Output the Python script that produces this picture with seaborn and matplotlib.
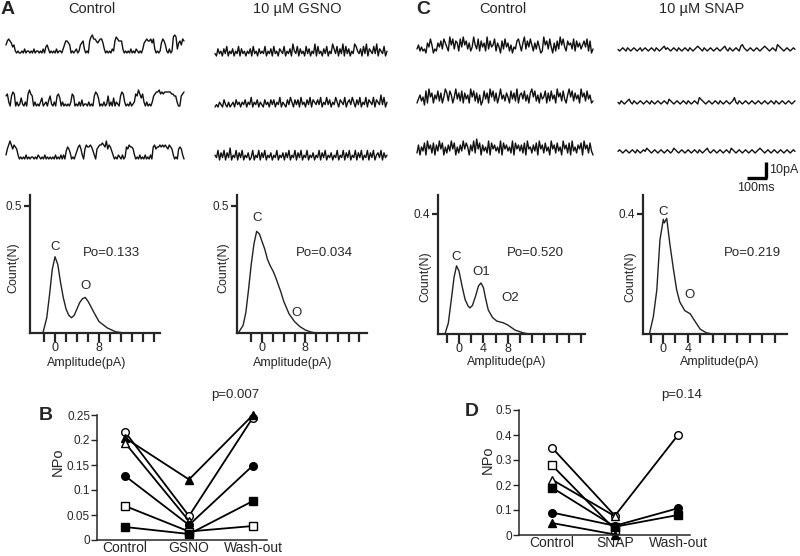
import numpy as np
import matplotlib
matplotlib.use("Agg")
import matplotlib.pyplot as plt
import seaborn as sns

sns.set_theme(style="ticks")
plt.rcParams['font.family'] = ['Liberation Sans', 'DejaVu Sans']

# ---------------- data ----------------
# single-channel traces, read as levels (0 = closed baseline)
gsno_ctrl_traces = [
    ("4676534" "1010" "010201101020110102" "03420" "1010201102" "466540" "101201" "4562" "010"
     "68977656775" "20101021" "687666" "2010102010210102" "56766757" "20101" "5764" "10201" "898" "2" "56476"),
    ("5620576020141020686502010240120351020564020101026501020301102010576401020150204021057620"
     "102012658646202010256778676777776655200567"),
    ("2579757652010102010110102101020101010201020204653010246752057667642056778769576420102102"
     "0165766520102010201020675667676765765201056520"),
]
gsno_traces = [
    "1031203140213021403120213041203121402130412032140213052140312041302150412031402153140315041302154213041503214150321402",
    "0102103102012031202130214021302103120313021402103142031304120314032131402141302142032140231420314021403214032151402",
    "2140314031502140314021301402140314021302140213031402140314021402130214031402130214021403140214031402140314023140312",
]
snap_ctrl_traces = [
    "24131205374021536275318472651738462513842716351826347153062735140326741582637415263018462730516284731645271635246371602",
    "13524071846153726148627514836271635184726150273618472614835264173628156372516847251634716273518462731584726351846273512",
    "26153718462716384715263847152638475163829471635281746352817463528174636271845263718462735184627351846271835264718462731",
]
snap_traces = [
    "1012102101210120121012102101231210121021012102101232102101210121012310210121034210121012101232101210432101210121",
    "1021012310210121012102101210121032101210121021012104321012101210210121012410210121012101210121012102101210121012",
    "1210121012102101213210121012101210132101210121012102101231012101210121032101210121012101232101210121012101210121",
]

# amplitude histograms (pA, normalised count)
hA_ctrl_amp = [-4.5, -2.2, -1.5, -1.0, -0.5, 0.0, 0.5, 1.0, 1.5, 2.0, 2.5, 3.0, 3.5, 4.0, 4.5, 5.0, 5.5, 6.0, 6.5,
               7.0, 8.0, 9.5, 11.0, 12.5, 19.0]
hA_ctrl_cnt = [0.0, 0.0, 0.06, 0.15, 0.25, 0.30, 0.27, 0.20, 0.14, 0.095, 0.07, 0.06, 0.07, 0.095, 0.12, 0.135, 0.14,
               0.125, 0.105, 0.084, 0.045, 0.02, 0.005, 0.0, 0.0]
hA_gsno_amp = [-4.6, -4.4, -3.5, -3.0, -2.5, -2.0, -1.5, -1.0, -0.5, 0.0, 0.5, 1.0, 1.5, 2.0, 2.5, 3.0, 3.5, 4.0, 4.5,
               5.0, 5.5, 6.0, 7.0, 8.0, 9.0, 10.0, 19.0]
hA_gsno_cnt = [0.0, 0.0, 0.03, 0.08, 0.17, 0.27, 0.35, 0.40, 0.39, 0.36, 0.33, 0.29, 0.265, 0.245, 0.22, 0.19, 0.16,
               0.125, 0.10, 0.075, 0.06, 0.045, 0.025, 0.012, 0.004, 0.0, 0.0]
hC_ctrl_amp = [-3.4, -2.3, -1.75, -1.2, -0.8, -0.4, 0.0, 0.5, 1.0, 1.5, 1.8, 2.2, 2.7, 3.2, 3.6, 4.0, 4.4, 4.8, 5.5,
               6.2, 7.3, 8.0, 9.2, 10.5, 11.5, 20.6]
hC_ctrl_cnt = [0.0, 0.0, 0.036, 0.124, 0.19, 0.227, 0.21, 0.16, 0.115, 0.093, 0.087, 0.095, 0.125, 0.16, 0.17, 0.155,
               0.115, 0.08, 0.055, 0.043, 0.037, 0.03, 0.013, 0.004, 0.0, 0.0]
hC_snap_amp = [-3.2, -2.2, -1.56, -1.0, -0.5, 0.05, 0.2, 0.6, 1.1, 1.7, 2.2, 2.7, 3.5, 4.4, 5.2, 6.0, 7.0, 8.0, 20.0]
hC_snap_cnt = [0.0, 0.0, 0.058, 0.147, 0.313, 0.382, 0.37, 0.385, 0.30, 0.213, 0.147, 0.107, 0.078, 0.067, 0.041,
               0.016, 0.004, 0.0, 0.0]

# NPo per patch
cats_B = ["Control", "GSNO", "Wash-out"]
B_open_circle = [0.216, 0.048, 0.245]
B_filled_triangle = [0.204, 0.121, 0.250]
B_open_triangle = [0.194, 0.038, np.nan]
B_filled_circle = [0.128, 0.030, 0.149]
B_open_square = [0.068, 0.017, 0.028]
B_filled_square = [0.026, 0.012, 0.078]

cats_D = ["Control", "SNAP", "Wash-out"]
D_open_circle = [0.350, 0.077, 0.400]
D_open_square = [0.280, 0.022, np.nan]
D_open_triangle = [0.222, 0.075, np.nan]
D_filled_square = [0.190, 0.033, 0.080]
D_filled_circle = [0.090, 0.037, 0.107]
D_filled_triangle = [0.048, 0.002, np.nan]

# ---------------- figure ----------------
W, H = 800, 556
fig = plt.figure(figsize=(8, 5.56), dpi=100)
fig.patch.set_facecolor("white")


def rect(l, t, r, b):
    return [l / W, 1 - b / H, (r - l) / W, (b - t) / H]


def ftext(x, y, s, **kw):
    fig.text(x / W, 1 - y / H, s, ha=kw.pop("ha", "center"), va=kw.pop("va", "center"), **kw)


ov = fig.add_axes([0, 0, 1, 1])
ov.set_xlim(0, W)
ov.set_ylim(H, 0)
ov.axis("off")
ov.patch.set_alpha(0)

# traces
columns = [
    (gsno_ctrl_traces, 6, 184, [53, 106, 159], 2.0),
    (gsno_traces, 215, 387, [56, 107, 160], 2.4),
    (snap_ctrl_traces, 417, 593, [53, 105, 157], 2.0),
    (snap_traces, 618, 795, [51, 104, 153], 1.6),
]
for strings, x0, x1, bases, sc in columns:
    for s, base in zip(strings, bases):
        v = np.array([int(c) for c in s], dtype=float)
        xs = np.linspace(x0, x1, len(v))
        sns.lineplot(x=xs, y=base - v * sc, ax=ov, color="#111111", lw=1.0, sort=False, estimator=None)

# scale bar
ov.plot([766, 766], [162, 178], color="black", lw=2.4, solid_capstyle="butt")
ov.plot([747, 767], [178, 178], color="black", lw=2.4, solid_capstyle="butt")
ftext(769, 170, "10pA", ha="left", fontsize=9)
ftext(756, 188, "100ms", fontsize=9)

# headers
ftext(8, 9, "A", fontsize=14, fontweight="bold")
ftext(92, 9, "Control", fontsize=10.5)
ftext(297, 9, "10 µM GSNO", fontsize=10.5)
ftext(423, 10, "C", fontsize=14, fontweight="bold")
ftext(503, 9, "Control", fontsize=10.5)
ftext(702, 9, "10 µM SNAP", fontsize=10.5)


def hist_axes(px, amp, cnt, xlim, ylim, ytick, labelled, xl, yl, annots):
    ax = fig.add_axes(rect(*px))
    ax.patch.set_alpha(0)
    sns.lineplot(x=amp, y=cnt, ax=ax, color="#222222", lw=1.0, sort=False, estimator=None)
    ax.set_xlim(*xlim)
    ax.set_ylim(*ylim)
    for s in ("top", "right"):
        ax.spines[s].set_visible(False)
    for s in ("left", "bottom"):
        ax.spines[s].set_linewidth(1.6)
    ticks = np.arange(-2, xlim[1], 2)
    ax.set_xticks(ticks)
    ax.set_xticklabels([str(int(t)) if int(t) in labelled else "" for t in ticks], fontsize=9)
    ax.set_yticks([ytick])
    ax.set_yticklabels([str(ytick)], fontsize=8.5)
    ax.tick_params(axis="x", direction="out", length=6.5, width=1.6, pad=0.3)
    ax.tick_params(axis="y", direction="out", length=4.5, width=1.6, pad=1)
    ax.set_xlabel("Amplitude(pA)", fontsize=9)
    ax.set_ylabel("Count(N)", fontsize=9)
    ax.xaxis.set_label_coords(*xl)
    ax.yaxis.set_label_coords(*yl)
    ax.xaxis.label.set_va("center")
    ax.yaxis.label.set_va("center")
    for x, y, s in annots:
        ax.text(x, y, s, ha="center", va="center", fontsize=9.5)
    ax.grid(False)
    return ax


hist_axes((30, 195, 160, 333), hA_ctrl_amp, hA_ctrl_cnt, (-4.55, 19.1), (0, 0.543), 0.5, [0, 8],
          (0.438, -0.215), (-0.13, 0.47),
          [(0.1, 0.34, "C"), (5.5, 0.185, "O"), (10.3, 0.315, "Po=0.133")])
hist_axes((237, 195, 367, 333), hA_gsno_amp, hA_gsno_cnt, (-4.63, 19.4), (0, 0.543), 0.5, [0, 8],
          (0.43, -0.215), (-0.108, 0.47),
          [(-1.0, 0.453, "C"), (6.3, 0.079, "O"), (11.5, 0.315, "Po=0.034")])
hist_axes((438, 195, 585, 334), hC_ctrl_amp, hC_ctrl_cnt, (-3.44, 20.66), (0, 0.463), 0.4, [0, 4, 8],
          (0.47, -0.2), (-0.088, 0.41),
          [(-0.5, 0.257, "C"), (3.6, 0.207, "O1"), (8.4, 0.12, "O2"), (12.5, 0.27, "Po=0.520")])
hist_axes((643, 195, 787, 334), hC_snap_amp, hC_snap_cnt, (-3.23, 20.0), (0, 0.463), 0.4, [0, 4],
          (0.53, -0.2), (-0.09, 0.41),
          [(0.0, 0.407, "C"), (4.2, 0.13, "O"), (14.35, 0.27, "Po=0.219")])


def npo_axes(px, xlim, ylim, yticks, ylabels, cats, series):
    ax = fig.add_axes(rect(*px))
    ax.patch.set_alpha(0)
    pos = np.arange(len(cats))
    for vals, m, fc in series:
        v = np.array(vals, dtype=float)
        ok = ~np.isnan(v)
        sns.lineplot(x=pos[ok], y=v[ok], ax=ax, color="black", lw=1.3, marker=m, markersize=5.5,
                     markerfacecolor=fc, markeredgecolor="black", markeredgewidth=1.0,
                     sort=False, estimator=None, clip_on=False)
    ax.set_xlim(*xlim)
    ax.set_ylim(*ylim)
    for s in ("top", "right"):
        ax.spines[s].set_visible(False)
    for s in ("left", "bottom"):
        ax.spines[s].set_linewidth(1.1)
    ax.set_xticks(pos)
    ax.set_xticklabels(cats, fontsize=10)
    ax.set_yticks(yticks)
    ax.set_yticklabels(ylabels, fontsize=8.5)
    ax.tick_params(axis="y", direction="out", length=4, width=1.0, pad=1)
    ax.tick_params(axis="x", length=0, pad=0.5)
    ax.set_ylabel("NPo", fontsize=10.5)
    ax.grid(False)
    return ax


axB = npo_axes((97, 415, 267, 540), (-0.44, 2.22), (0, 0.25),
               [0, 0.05, 0.1, 0.15, 0.2, 0.25], ["0", "0.05", "0.1", "0.15", "0.2", "0.25"], cats_B,
               [(B_open_circle, "o", "white"), (B_filled_triangle, "^", "black"),
                (B_open_triangle, "^", "white"), (B_filled_circle, "o", "black"),
                (B_open_square, "s", "white"), (B_filled_square, "s", "black")])
axB.yaxis.set_label_coords((58 - 97) / 170, (540 - 462) / 125)
axB.yaxis.label.set_va("center")

axD = npo_axes((519, 410, 690, 535), (-0.52, 2.19), (0, 0.5),
               [0, 0.1, 0.2, 0.3, 0.4, 0.5], ["0", "0.1", "0.2", "0.3", "0.4", "0.5"], cats_D,
               [(D_open_circle, "o", "white"), (D_open_square, "s", "white"),
                (D_open_triangle, "^", "white"), (D_filled_square, "s", "black"),
                (D_filled_circle, "o", "black"), (D_filled_triangle, "^", "black")])
axD.yaxis.set_label_coords((488 - 519) / 171, (535 - 460) / 125)
axD.yaxis.label.set_va("center")

ftext(46, 416, "B", fontsize=14, fontweight="bold")
ftext(472, 412, "D", fontsize=14, fontweight="bold")
ftext(235, 395, "p=0.007", fontsize=9.5)
ftext(682, 395, "p=0.14", fontsize=9.5)

fig.savefig("out.png", dpi=100, facecolor="white")
